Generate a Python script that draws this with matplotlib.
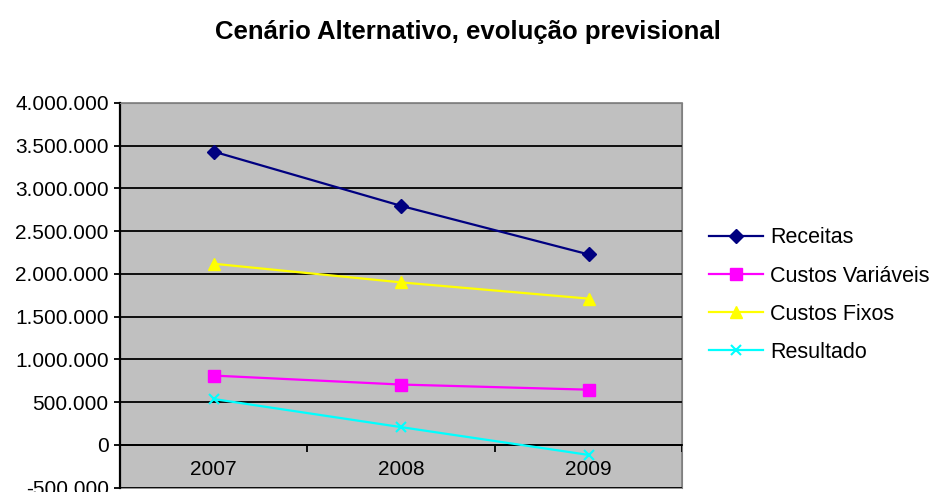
import matplotlib.pyplot as plt
from matplotlib.patches import Rectangle
from matplotlib.ticker import FuncFormatter, FixedLocator

plt.rcParams['font.family'] = ['Liberation Sans', 'DejaVu Sans']

# Data
years = ['2007', '2008', '2009']
receitas = [3430000, 2795000, 2227000]
custos_variaveis = [810000, 705000, 645000]
custos_fixos = [2118000, 1900000, 1710000]
resultado = [536000, 207000, -118000]

series = [
    ('Receitas', receitas, '#000080', 'D', 7.5),
    ('Custos Variáveis', custos_variaveis, '#FF00FF', 's', 8),
    ('Custos Fixos', custos_fixos, '#FFFF00', '^', 9),
    ('Resultado', resultado, '#00FFFF', 'x', 7),
]

fig = plt.figure(figsize=(9.36, 4.92), dpi=100)
ax = fig.add_axes([0.128, 0.009, 0.601, 0.782])
ax.set_facecolor('#C0C0C0')

x = list(range(len(years)))
for name, vals, color, marker, ms in series:
    ax.plot(x, vals, color=color, marker=marker, markersize=ms, linewidth=1.6,
            markeredgewidth=1.5 if marker == 'x' else 1, label=name, zorder=3)

ax.set_ylim(-500000, 4000000)
ax.set_xlim(-0.5, len(years) - 0.5)
ax.yaxis.set_major_locator(FixedLocator(range(-500000, 4000001, 500000)))
ax.yaxis.set_major_formatter(FuncFormatter(lambda v, p: f'{int(v):,}'.replace(',', '.')))
ax.grid(axis='y', color='black', linewidth=1.3, zorder=1)
ax.set_axisbelow(True)

# category axis crossing at zero
ax.spines['bottom'].set_position(('data', 0))
ax.spines['bottom'].set_color('black')
ax.spines['bottom'].set_linewidth(1.3)
ax.spines['left'].set_color('black')
ax.spines['left'].set_linewidth(1.6)
ax.spines['top'].set_color('#808080')
ax.spines['right'].set_color('#808080')
ax.add_patch(Rectangle((0, 0), 1, 1, transform=ax.transAxes, fill=False,
                       edgecolor='#808080', linewidth=1.2, clip_on=False, zorder=0))

ax.set_xticks([i + 0.5 for i in x])
ax.set_xticklabels([])
ax.set_xticks(x, minor=True)
ax.set_xticklabels(years, minor=True)
ax.tick_params(axis='x', which='major', length=5, width=1.3, direction='out', color='black')
ax.tick_params(axis='x', which='minor', length=0, pad=11, labelsize=15)
ax.tick_params(axis='y', length=4, width=1.3, labelsize=15, pad=4)

fig.text(0.5, 0.935, 'Cenário Alternativo, evolução previsional', ha='center',
         va='center', fontsize=18.5, fontweight='bold')

fig.legend(loc='center left', bbox_to_anchor=(0.758, 0.40), frameon=False,
           fontsize=15.5, handlelength=2.5, handletextpad=0.3, labelspacing=0.8,
           borderaxespad=0, borderpad=0)

fig.savefig('out.png', dpi=100)
